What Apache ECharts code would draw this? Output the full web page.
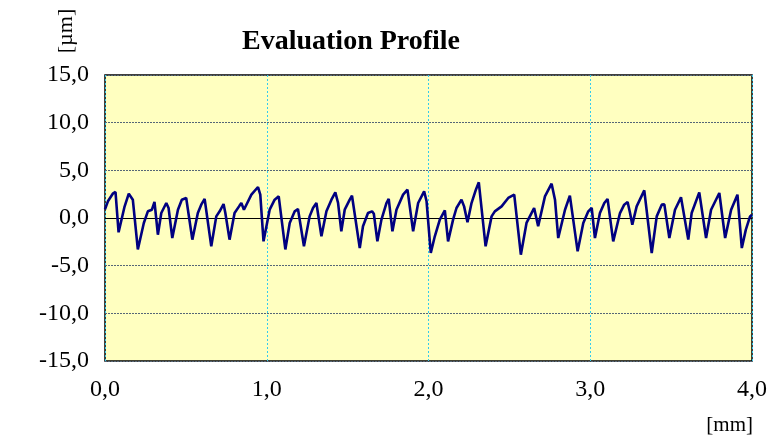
<!DOCTYPE html>
<html>
<head>
<meta charset="utf-8">
<script src="https://cdn.jsdelivr.net/npm/echarts@6/dist/echarts.min.js"></script>
<style>
  html, body { margin: 0; padding: 0; background: #ffffff; }
  #chart { width: 775px; height: 445px; }
</style>
</head>
<body>
<div id="chart"></div>
<script>
// Evaluation profile: position along the trace [mm] and height [µm]
const positionMm = [
  0.000, 0.003, 0.018, 0.048, 0.065, 0.084, 0.096, 0.121, 0.147, 0.172,
  0.203, 0.240, 0.265, 0.290, 0.306, 0.327, 0.348, 0.379, 0.393, 0.416,
  0.451, 0.475, 0.502, 0.540, 0.574, 0.595, 0.616, 0.657, 0.688, 0.709,
  0.733, 0.744, 0.770, 0.801, 0.832, 0.843, 0.859, 0.905, 0.946, 0.960,
  0.980, 1.018, 1.049, 1.074, 1.115, 1.142, 1.173, 1.193, 1.230, 1.265,
  1.286, 1.307, 1.338, 1.369, 1.400, 1.424, 1.441, 1.461, 1.482, 1.513,
  1.527, 1.575, 1.595, 1.626, 1.651, 1.662, 1.684, 1.709, 1.740, 1.754,
  1.777, 1.802, 1.843, 1.870, 1.905, 1.936, 1.946, 1.973, 1.988, 2.014,
  2.039, 2.070, 2.101, 2.121, 2.152, 2.173, 2.204, 2.220, 2.241, 2.266,
  2.293, 2.311, 2.353, 2.390, 2.410, 2.452, 2.493, 2.530, 2.571, 2.606,
  2.637, 2.653, 2.678, 2.720, 2.761, 2.782, 2.802, 2.844, 2.874, 2.922,
  2.957, 2.988, 3.009, 3.029, 3.060, 3.087, 3.107, 3.142, 3.184, 3.210,
  3.231, 3.246, 3.260, 3.287, 3.334, 3.380, 3.411, 3.442, 3.458, 3.489,
  3.524, 3.561, 3.606, 3.627, 3.674, 3.716, 3.747, 3.798, 3.834, 3.871,
  3.910, 3.937, 3.962, 3.988, 4.000
];
const heightUm = [
  0.90, 1.05, 1.75, 2.55, 2.73, -1.50, -1.40, 1.20, 2.55, 1.92,
  -3.30, -0.52, 0.70, 0.87, 1.68, -1.75, 0.52, 1.57, 1.05, -2.10,
  0.87, 1.92, 2.10, -2.27, 0.52, 1.40, 2.00, -2.97, 0.17, 0.70,
  1.47, 0.52, -2.27, 0.52, 1.30, 1.57, 0.87, 2.45, 3.25, 2.45,
  -2.45, 0.87, 1.92, 2.27, -3.30, -0.52, 0.70, 0.94, -2.97, 0.17,
  1.05, 1.57, -1.92, 0.70, 1.92, 2.69, 1.57, -1.40, 0.87, 1.92,
  2.34, -3.15, -0.87, 0.52, 0.70, 0.45, -2.45, -0.17, 1.57, 2.00,
  -1.40, 0.87, 2.45, 2.97, -1.40, 1.57, 1.57, 2.80, 1.75, -3.67,
  -1.92, -0.17, 0.80, -2.45, -0.17, 1.05, 1.92, 1.22, -0.45, 1.57,
  2.97, 3.74, -2.97, 0.17, 0.70, 1.22, 2.10, 2.45, -3.85, -0.52,
  0.52, 1.05, -0.87, 2.27, 3.60, 1.92, -2.10, 0.87, 2.34, -3.50,
  -0.52, 0.70, 1.05, -2.10, 0.52, 1.57, 2.00, -2.45, 0.52, 1.40,
  1.68, 0.52, -0.70, 1.22, 2.90, -3.67, 0.17, 1.40, 1.43, -2.10,
  0.87, 2.17, -2.27, 0.52, 2.69, -2.10, 0.87, 2.62, -2.10, 0.87,
  2.45, -3.15, -1.22, 0.17, 0.35
];

const titleText = 'Evaluation Profile';
const yUnit = '[µm]';
const xUnit = '[mm]';

const fmt = v => v.toFixed(1).replace('.', ',');
const serif = '"Liberation Serif", "Times New Roman", serif';

const chart = echarts.init(document.getElementById('chart'), null, { renderer: 'canvas' });

chart.setOption({
  animation: false,
  backgroundColor: '#ffffff',
  grid: {
    left: 105, right: 23, top: 75, bottom: 84,
    show: true, backgroundColor: '#ffffc0', borderColor: '#000000', borderWidth: 1.5
  },
  xAxis: {
    type: 'value', min: 0, max: 4, interval: 1,
    axisLine: { show: false }, axisTick: { show: false },
    axisLabel: { formatter: fmt, color: '#000', fontFamily: serif, fontSize: 24, margin: 17 },
    splitLine: { show: true, lineStyle: { color: '#33ccee', type: [2, 2], width: 1 } }
  },
  yAxis: {
    type: 'value', min: -15, max: 15, interval: 5,
    axisLine: { show: false }, axisTick: { show: false },
    axisLabel: { formatter: fmt, color: '#000', fontFamily: serif, fontSize: 24, margin: 16 },
    splitLine: { show: true, lineStyle: { color: '#556677', type: [2, 1], width: 1 } }
  },
  series: [{
    type: 'line',
    data: positionMm.map((x, i) => [x, heightUm[i]]),
    showSymbol: false,
    lineStyle: { color: '#000080', width: 2.6 },
    z: 3,
    markLine: {
      silent: true, symbol: 'none', label: { show: false },
      lineStyle: { color: '#000000', type: 'solid', width: 1 },
      data: [{ yAxis: 0 }],
      z: 2
    }
  }],
  graphic: [
    {
      type: 'text', left: 242, top: 28,
      style: { text: titleText, font: 'bold 28px ' + serif, fill: '#000' }
    },
    {
      type: 'text', x: 66, y: 31, rotation: Math.PI / 2,
      style: { text: yUnit, font: '22px ' + serif, fill: '#000', align: 'center', verticalAlign: 'middle' }
    },
    {
      type: 'text', right: 22, top: 415,
      style: { text: xUnit, font: '21px ' + serif, fill: '#000' }
    }
  ]
});
</script>
</body>
</html>
